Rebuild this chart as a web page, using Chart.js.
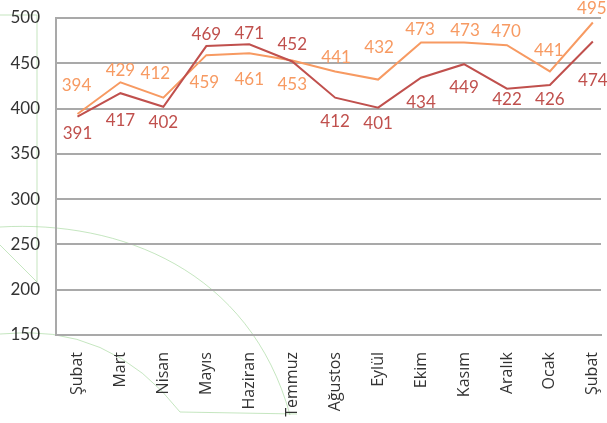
<!DOCTYPE html>
<html>
<head>
<meta charset="utf-8">
<script src="https://cdn.jsdelivr.net/npm/chart.js@4/dist/chart.umd.min.js"></script>
<style>
  html, body { margin: 0; padding: 0; background: #fff; }
  #wrap { width: 607px; height: 423px; }
</style>
</head>
<body>
<div id="wrap"><canvas id="chart" width="607" height="423"></canvas></div>
<script>
const months = ["Şubat", "Mart", "Nisan", "Mayıs", "Haziran", "Temmuz", "Ağustos", "Eylül", "Ekim", "Kasım", "Aralık", "Ocak", "Şubat"];
const seriesRed = [391, 417, 402, 469, 471, 452, 412, 401, 434, 449, 422, 426, 474];
const seriesOrange = [394, 429, 412, 459, 461, 453, 441, 432, 473, 473, 470, 441, 495];
const yTicks = [150, 200, 250, 300, 350, 400, 450, 500];

// label offsets (px from point, + = below)
const redLabelDy = [17, 27, 16, -12, -11, -17, 24, 16, 25, 23, 11, 14, 39];
const orangeLabelDy = [-28, -12, -24, 27, 26, 24, -14, -32, -13, -12, -14, -21, -14];
const orangeLabelDx = [-1, 0, -8, -2, 0, 0, 1, 1, -1, 1, -1, -1, -1];

const RED = "#c0504d";
const ORANGE = "#f79a62";
const GRID = "#a9a9a9";

const toPoints = (vals) => vals.map((v, i) => ({ x: i, y: v }));

const valueLabels = {
  id: "valueLabels",
  afterDatasetsDraw(chart) {
    const ctx = chart.ctx;
    ctx.save();
    ctx.font = "17px Lato";
    ctx.textAlign = "center";
    ctx.textBaseline = "middle";
    chart.data.datasets.forEach((ds, di) => {
      const meta = chart.getDatasetMeta(di);
      const dy = di === 0 ? redLabelDy : orangeLabelDy;
      const dx = di === 0 ? null : orangeLabelDx;
      ctx.fillStyle = ds.labelColor;
      meta.data.forEach((pt, i) => {
        ctx.fillText(String(ds.data[i].y), pt.x + (dx ? dx[i] : 0), pt.y + dy[i]);
      });
    });
    ctx.restore();
  },
};

// faint background decoration
const decoration = {
  id: "decoration",
  beforeDraw(chart) {
    const ctx = chart.ctx;
    ctx.save();
    ctx.strokeStyle = "rgba(150, 210, 140, 0.55)";
    ctx.lineWidth = 1;
    ctx.beginPath();
    ctx.moveTo(0, 15); ctx.lineTo(37, 15); ctx.lineTo(37, 282); ctx.lineTo(0, 245);
    ctx.stroke();
    ctx.beginPath();
    ctx.moveTo(0, 227);
    ctx.bezierCurveTo(120, 220, 250, 270, 290, 415);
    ctx.stroke();
    ctx.beginPath();
    ctx.moveTo(0, 334);
    ctx.quadraticCurveTo(110, 322, 180, 412);
    ctx.lineTo(297, 414);
    ctx.stroke();
    ctx.restore();
  },
};

new Chart(document.getElementById("chart"), {
  type: "line",
  data: {
    datasets: [
      { data: toPoints(seriesRed), borderColor: RED, labelColor: RED, borderWidth: 2, pointRadius: 0, tension: 0 },
      { data: toPoints(seriesOrange), borderColor: ORANGE, labelColor: ORANGE, borderWidth: 2, pointRadius: 0, tension: 0 },
    ],
  },
  options: {
    responsive: false,
    animation: false,
    layout: { padding: { top: 18, right: 6, left: 0, bottom: 0 } },
    plugins: { legend: { display: false }, tooltip: { enabled: false } },
    scales: {
      x: {
        type: "linear",
        min: -0.5,
        max: 12.19,
        afterBuildTicks(scale) {
          scale.ticks = months.map((_, i) => ({ value: i }));
        },
        afterFit(scale) {
          scale.height = 88;
          scale.paddingLeft = 0;
          scale.paddingRight = 0;
        },
        grid: { display: false, drawTicks: false },
        border: { display: true, color: GRID, width: 2 },
        ticks: {
          autoSkip: false,
          maxRotation: 90,
          minRotation: 90,
          padding: 17,
          color: "#333",
          font: { family: "Open Sans", size: 16 },
          callback: (v) => months[v],
        },
      },
      y: {
        min: 150,
        max: 500,
        afterBuildTicks(scale) {
          scale.ticks = yTicks.map((v) => ({ value: v }));
        },
        afterFit(scale) {
          scale.width = 56;
          scale.paddingTop = 0;
          scale.paddingBottom = 0;
        },
        grid: { color: GRID, lineWidth: 2, drawTicks: false },
        border: { display: true, color: GRID, width: 2 },
        ticks: {
          padding: 16,
          color: "#333",
          font: { family: "Lato", size: 17 },
        },
      },
    },
  },
  plugins: [decoration, valueLabels],
});
</script>
</body>
</html>
